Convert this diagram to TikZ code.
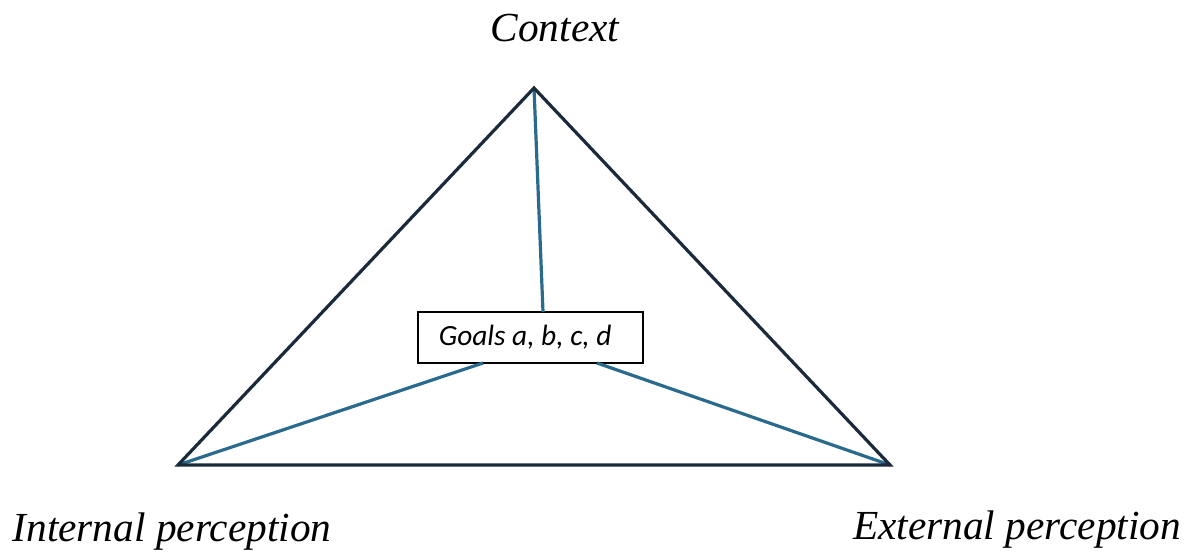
\documentclass[tikz,border=0pt]{standalone}
\usepackage{fontspec}
\setmainfont{Liberation Serif}
\newfontfamily\goalsfont{Carlito}
\definecolor{edgedark}{HTML}{1B2A3A}
\definecolor{edgeblue}{HTML}{2A6A8C}
\begin{document}
\begin{tikzpicture}[x=0.75pt,y=-0.75pt,
  outer/.style={draw=edgedark,line width=2.4pt,line join=miter},
  inner/.style={draw=edgeblue,line width=2.4pt},
  lab/.style={font=\fontsize{31}{36}\selectfont\itshape,inner sep=0pt},
  goalbox/.style={draw=black,line width=1.3pt,fill=white,minimum width=168.75pt,minimum height=38.25pt,inner sep=0pt,font=\goalsfont\fontsize{22}{25}\selectfont\itshape}]
\useasboundingbox (0,0) rectangle (1187,551);
\coordinate (apex) at (534,88);
\coordinate (bl) at (178,465);
\coordinate (br) at (890,465);
\node[goalbox] (goals) at (530.5,337.5) {\hspace*{-8pt}Goals a, b, c, d};
\coordinate (gt) at (543,312);
\coordinate (gbl) at (483,363);
\coordinate (gbr) at (597,363);
\draw[inner] (apex) -- (gt);
\draw[inner] (bl) -- (gbl);
\draw[inner] (br) -- (gbr);
\draw[outer] (apex) -- (br) -- (bl) -- cycle;
\node[lab] (ctx) at (555,28) {Context};
\node[lab] (int) at (172,532) {Internal perception};
\node[lab] (ext) at (1017,530) {External perception};
\end{tikzpicture}
\end{document}
